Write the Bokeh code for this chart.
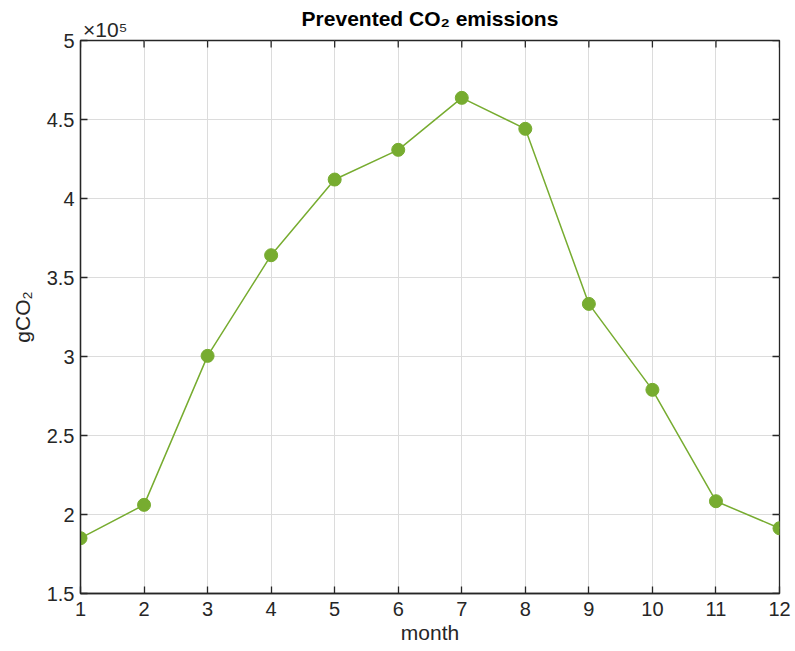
import math
from bokeh.plotting import figure
from bokeh.models import LinearAxis, FixedTicker, Range1d
from bokeh.embed import file_html
from bokeh.resources import INLINE

# ---- data (gCO2 per month) ----
months = [1, 2, 3, 4, 5, 6, 7, 8, 9, 10, 11, 12]
prevented_gco2 = [185000, 206100, 300400, 364100, 412000, 430800,
                  463700, 444100, 333300, 278900, 208400, 191300]
y_ticks = [150000, 200000, 250000, 300000, 350000, 400000, 450000, 500000]
y_tick_labels = ["1.5", "2", "2.5", "3", "3.5", "4", "4.5", "5"]
x_ticks = months
title_text = "Prevented CO₂ emissions"
exponent_text = "×10⁵"

GREEN = "#77AC30"
DARK = "#262626"
FONT = "Liberation Sans"

x_lo, x_hi = x_ticks[0], x_ticks[-1]
y_lo, y_hi = y_ticks[0], y_ticks[-1]

p = figure(width=795, height=651, output_backend="svg", toolbar_location=None,
           x_range=Range1d(x_lo, x_hi), y_range=Range1d(y_lo, y_hi),
           min_border_left=80, min_border_right=16, min_border_top=40, min_border_bottom=58,
           title=None)
p.background_fill_color = "white"
p.border_fill_color = "white"
p.outline_line_color = DARK
p.outline_line_width = 1.3


def style_axis(ax):
    ax.axis_line_color = DARK
    ax.axis_line_width = 1.3
    ax.major_tick_line_color = DARK
    ax.major_tick_line_width = 1.3
    ax.major_tick_in = 7
    ax.major_tick_out = 0
    ax.minor_tick_line_color = None
    ax.major_label_text_font = FONT
    ax.major_label_text_color = DARK
    ax.major_label_text_font_size = "20px"


xax = p.xaxis[0]
xax.ticker = FixedTicker(ticks=x_ticks)
style_axis(xax)
xax.major_label_standoff = 8
xax.axis_label = "month"
xax.axis_label_text_font = FONT
xax.axis_label_text_font_size = "21px"
xax.axis_label_text_font_style = "normal"
xax.axis_label_text_color = DARK
xax.axis_label_standoff = 2

yax = p.yaxis[0]
yax.ticker = FixedTicker(ticks=y_ticks)
yax.major_label_overrides = {t: l for t, l in zip(y_ticks, y_tick_labels)}
style_axis(yax)
yax.major_label_standoff = 6
yax.axis_label = "gCO₂"
yax.axis_label_text_font = FONT
yax.axis_label_text_font_size = "21px"
yax.axis_label_text_font_style = "normal"
yax.axis_label_text_color = DARK
yax.axis_label_standoff = 10

# top axis: carries the exponent note (near the left corner) and the title as its label
exp_pos = x_lo + 0.39  # centre of the exponent note, just right of the top-left corner
top_ax = LinearAxis(ticker=FixedTicker(ticks=[exp_pos]))
top_ax.major_label_overrides = {exp_pos: exponent_text}
top_ax.axis_line_color = None
top_ax.major_tick_line_color = None
top_ax.minor_tick_line_color = None
top_ax.major_tick_in = 0
top_ax.major_tick_out = 0
top_ax.major_label_standoff = 0
top_ax.major_label_text_font = FONT
top_ax.major_label_text_font_size = "21px"
top_ax.major_label_text_color = DARK
top_ax.axis_label = title_text
top_ax.axis_label_text_font = FONT
top_ax.axis_label_text_font_size = "21px"
top_ax.axis_label_text_font_style = "bold"
top_ax.axis_label_text_color = "black"
top_ax.axis_label_standoff = -15
p.add_layout(top_ax, "above")

p.xgrid.ticker = FixedTicker(ticks=x_ticks)
p.ygrid.ticker = FixedTicker(ticks=y_ticks)
for g in (p.xgrid[0], p.ygrid[0]):
    g.grid_line_color = "#dcdcdc"
    g.grid_line_width = 1

# inward tick marks on the top and right box edges (half of each dash is clipped by the frame)
p.scatter(x_ticks, [y_hi] * len(x_ticks), marker="dash", angle=math.pi / 2, size=14,
          line_color=DARK, line_width=1.3)
p.scatter([x_hi] * len(y_ticks), y_ticks, marker="dash", size=14,
          line_color=DARK, line_width=1.3)

p.line(months, prevented_gco2, line_color=GREEN, line_width=1.5)
p.scatter(months, prevented_gco2, size=13, fill_color=GREEN, line_color=GREEN)

open("out.html", "w").write(file_html(p, INLINE))
